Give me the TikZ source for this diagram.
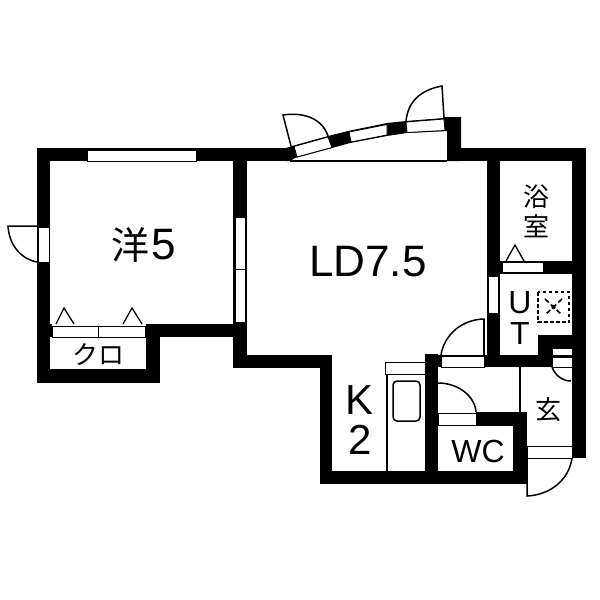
\documentclass[tikz,border=0pt]{standalone}
\usepackage{fontspec}
\setmainfont{Liberation Sans}
\newfontfamily\cjkfont{Noto Sans CJK JP}
\tikzset{
  wall/.style={fill=black,draw=none},
  win/.style={fill=white,draw=black,line width=0.9pt},
  thin line/.style={draw=black,line width=1.3pt},
  arcline/.style={draw=black,line width=1.5pt},
  lab/.style={inner sep=0pt,font=\fontsize{44}{44}\selectfont},
  smalllab/.style={inner sep=0pt,font=\fontsize{32}{32}\selectfont},
  cjk/.style={inner sep=0pt,font=\cjkfont\fontsize{26}{26}\selectfont}
}
\begin{document}
\begin{tikzpicture}[x=1pt,y=-1pt]
\useasboundingbox[fill=white] (0,0) rectangle (600,600);
% walls
\fill[wall] (37,148) rectangle (290,161);
\fill[wall] (37,148) rectangle (50,383);
\fill[wall] (37,369) rectangle (160,383);
\fill[wall] (146,324) rectangle (160,383);
\fill[wall] (37,324) rectangle (52,337);
\fill[wall] (146,324) rectangle (247,337);
\fill[wall] (233,148) rectangle (247,368);
\fill[wall] (233,355) rectangle (332,368);
\fill[wall] (320,355) rectangle (332,484);
\fill[wall] (320,471) rectangle (527,484);
\fill[wall] (425,354) rectangle (438,484);
\fill[wall] (476,412) rectangle (527,426);
\fill[wall] (513,412) rectangle (527,484);
\fill[wall] (425,355) rectangle (586,367);
\fill[wall] (487,148) rectangle (500,367);
\fill[wall] (500,261) rectangle (572,274);
\fill[wall] (572,148) rectangle (586,458);
\fill[wall] (461,148) rectangle (586,161);
\fill[wall] (538,335) rectangle (572,367);
\fill[wall] (444,117) -- (461,117) -- (461,161) -- (447,161) -- (447,131) -- (444,131) -- cycle;
% curved bay wall
\fill[wall] (286,148) -- (292,146) -- (328,136) -- (348,131) -- (387,123) -- (406,121) -- (444,118)
  -- (447,131) -- (407,133) -- (387,136) -- (350,143) -- (332,148) -- (295,158) -- (290,161) -- (286,161) -- cycle;
% bay windows
\path[win] (294,146.5) -- (328,137) -- (332,147.5) -- (297,157) -- cycle;
\path[win] (349,132) -- (387,124.5) -- (387,135) -- (351,142) -- cycle;
\path[win] (406,122) -- (444,119) -- (445,130.5) -- (407,132.5) -- cycle;
\draw[thin line] (290,161) -- (447,161);
% bay doors
\draw[arcline] (291,146) -- (283,115) .. controls (303,112) and (322,118) .. (328,136);
\draw[arcline] (444,118) -- (442,86) .. controls (420,90) and (408,102) .. (406,121);
% windows
\path[win] (87,150) rectangle (196,161);
\path[win] (235,217) rectangle (245,269);
\path[win] (235,269) rectangle (245,322);
\path[win] (38,227) rectangle (49,262);
\path[win] (488,276) rectangle (498,313);
% west door
\draw[arcline] (37,226) -- (8,226) .. controls (9,245) and (21,259) .. (37,262);
% closet
\path[win] (52,326) rectangle (98,337);
\path[win] (98,326) rectangle (145,337);
\draw[thin line] (56,324) -- (64,308) -- (74,324);
\draw[thin line] (123,324) -- (132,308) -- (142,324);
% bath door
\path[win] (502,262) rectangle (543,272);
\draw[thin line] (506,261) -- (515,245) -- (524,261);
% UT door
\path[win] (441,356) rectangle (484,367);
\draw[arcline] (441,355) .. controls (444,335) and (462,319) .. (485,319);
\draw[thin line] (484,319) -- (484,355);
% UT washer
\draw[black,line width=1.8pt,dash pattern=on 3.5pt off 2.5pt] (538,292) rectangle (569,322);
\draw[black,line width=1.6pt,dash pattern=on 5pt off 3pt] (545,299) -- (562,315);
\draw[black,line width=1.6pt,dash pattern=on 5pt off 3pt] (562,299) -- (545,315);
\fill[black] (553.5,307) circle (2.2pt);
% meter door
\path[win] (552,348) rectangle (572,355);
\path[win] (552,357) rectangle (572,367);
\draw[arcline] (552,367) .. controls (555,375) and (562,381) .. (571,381);
% entry
\draw[thin line] (520,367) -- (520,412);
\path[win] (527,446) rectangle (572,458);
\draw[arcline] (527,458) -- (527,496) .. controls (550,495) and (569,480) .. (572,458);
% WC door
\path[win] (438,413) rectangle (476,425);
\draw[arcline] (438,383) .. controls (458,383) and (475,396) .. (476,412);
% kitchen
\draw[thin line] (387,375) -- (387,471);
\path[win] (385,362.5) rectangle (425,374.5);
\draw[black,line width=1.5pt,rounded corners=4pt] (393,381) rectangle (420,421);
% labels
\node[cjk,font=\cjkfont\fontsize{38}{38}\selectfont,anchor=east] (y1) at (150,245) {洋};
\node[lab,anchor=west] (y2) at (151,245) {5};
\node[lab] (ld) at (368,262) {LD7.5};
\node[lab,font=\fontsize{42}{42}\selectfont] (k) at (360,400) {K};
\node[lab,font=\fontsize{42}{42}\selectfont] (k2) at (360,440) {2};
\node[smalllab] (wc) at (478,451) {WC};
\node[cjk] (kuro) at (98,355) {クロ};
\node[cjk] (gen) at (548,410) {玄};
\node[cjk] (yoku) at (536,197) {浴};
\node[cjk] (shitsu) at (536,226) {室};
\node[lab,font=\fontsize{32}{32}\selectfont] (u) at (520,303) {U};
\node[lab,font=\fontsize{32}{32}\selectfont] (t) at (520,333) {T};
\end{tikzpicture}
\end{document}
